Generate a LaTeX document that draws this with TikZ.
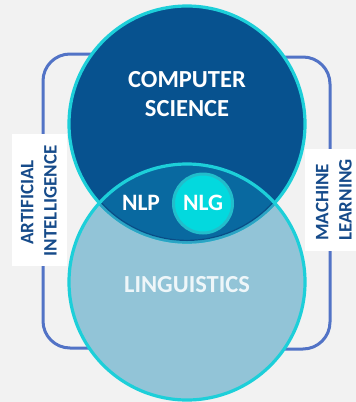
\documentclass[tikz,border=0pt]{standalone}
\usepackage{fontspec}
\setmainfont{Carlito}
\definecolor{bgcol}{HTML}{F2F2F2}
\definecolor{csblue}{HTML}{07528F}
\definecolor{lensblue}{HTML}{0969A0}
\definecolor{lingblue}{HTML}{92C4D7}
\definecolor{rimcyan}{HTML}{1DCFD9}
\definecolor{rimteal}{HTML}{2BA3C4}
\definecolor{rimdark}{HTML}{0A4C86}
\definecolor{nlgfill}{HTML}{03D9DE}
\definecolor{nlgring}{HTML}{22BDCB}
\definecolor{bracecol}{HTML}{5273C6}
\definecolor{labelcol}{HTML}{164B8A}
\definecolor{lingtext}{HTML}{EEF6F9}
\tikzset{
  brace/.style={draw=bracecol, line width=3pt, rounded corners=27pt},
  labelbox/.style={fill=white, draw=none},
  sidetext/.style={text=labelcol, font=\fontsize{19}{19}\selectfont\bfseries, rotate=90, anchor=base, inner sep=0pt},
  bigtext/.style={text=white, font=\fontsize{24.5}{24.5}\selectfont\bfseries, anchor=base, inner sep=0pt},
  midtext/.style={text=white, font=\fontsize{23.5}{23.5}\selectfont\bfseries, anchor=base, inner sep=0pt},
}
\begin{document}
\begin{tikzpicture}[x=1pt, y=-1pt]
  % canvas
  \fill[bgcol] (0,0) rectangle (356,402);
  \useasboundingbox (0,0) rectangle (356,402);

  % side brackets, running behind the circles
  \coordinate (aiTop) at (95,54);
  \coordinate (aiBot) at (95,348);
  \coordinate (mlTop) at (280,57);
  \coordinate (mlBot) at (280,349);
  \draw[brace] (aiTop) -- (43,54) -- (43,348) -- (aiBot);
  \draw[brace] (mlTop) -- (330,57) -- (330,349) -- (mlBot);

  % label boxes
  \node[labelbox, minimum width=55pt, minimum height=132pt, inner sep=0pt] (aibox) at (39.5,200) {};
  \node[labelbox, minimum width=51pt, minimum height=102pt, inner sep=0pt] (mlbox) at (330.5,200) {};
  \node[sidetext] (ai1) at (33.3,202.5) {ARTIFICIAL};
  \node[sidetext] (ai2) at (56.7,201) {INTELLIGENCE};
  \node[sidetext] (ml1) at (328.3,202.5) {MACHINE};
  \node[sidetext] (ml2) at (351.7,200) {LEARNING};

  % the two fields
  \coordinate (cs) at (187,124);
  \coordinate (li) at (187,282);
  \fill[lingblue] (li) circle (118);
  \fill[csblue] (cs) circle (118);
  \begin{scope}
    \clip (li) circle (118);
    \fill[lensblue] (cs) circle (118);
  \end{scope}

  % rims
  \draw[rimcyan, line width=3.2pt] (cs) circle (118);
  \begin{scope}
    \clip (li) circle (118);
    \draw[rimteal, line width=2.6pt] (cs) circle (118.3);
    \draw[rimdark, line width=1.2pt] (cs) circle (116.4);
  \end{scope}
  \draw[rimcyan, line width=3.2pt] (li) circle (118);

  % NLG bubble
  \node[circle, fill=nlgfill, draw=nlgring, line width=3pt, minimum size=59pt, inner sep=0pt] (nlgc) at (203,203.5) {};

  % texts
  \node[bigtext] (cs1) at (187,87.5) {COMPUTER};
  \node[bigtext] (cs2) at (187,116.5) {SCIENCE};
  \node[bigtext, text=lingtext] (lt) at (187,292.5) {LINGUISTICS};
  \node[midtext] (nlp) at (141,210.5) {NLP};
  \node[midtext] (nlg) at (203,210.5) {NLG};
\end{tikzpicture}
\end{document}
